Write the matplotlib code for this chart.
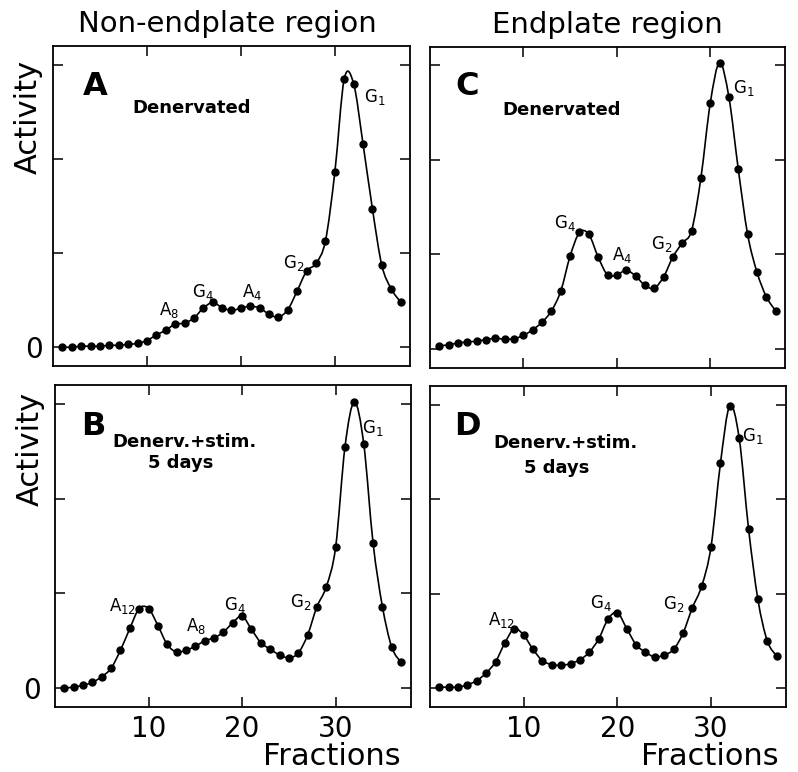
import numpy as np
import matplotlib
matplotlib.use("Agg")
import matplotlib.pyplot as plt
from matplotlib.path import Path
from matplotlib.patches import PathPatch

plt.rcParams["font.family"] = ["DejaVu Sans"]
plt.rcParams["mathtext.default"] = "regular"

fractions = np.arange(1, 38)

# activity (arbitrary units, ticks at 0..3)
non_endplate_denerv = [0.00, 0.00, 0.01, 0.01, 0.01, 0.02, 0.02, 0.03, 0.04, 0.07,
                       0.13, 0.18, 0.245, 0.255, 0.31, 0.415, 0.475, 0.42, 0.39, 0.415,
                       0.436, 0.415, 0.35, 0.32, 0.40, 0.60, 0.81, 0.89, 1.13, 1.86,
                       2.85, 2.80, 2.16, 1.47, 0.87, 0.62, 0.48]
non_endplate_stim = [0.00, 0.01, 0.03, 0.06, 0.12, 0.21, 0.40, 0.63, 0.84, 0.84,
                     0.66, 0.46, 0.38, 0.40, 0.44, 0.50, 0.53, 0.59, 0.69, 0.76,
                     0.62, 0.48, 0.41, 0.35, 0.32, 0.37, 0.56, 0.86, 1.07, 1.49,
                     2.55, 3.02, 2.58, 1.53, 0.86, 0.43, 0.27]
endplate_denerv = [0.03, 0.04, 0.06, 0.07, 0.08, 0.095, 0.11, 0.10, 0.105, 0.14,
                   0.20, 0.28, 0.40, 0.61, 0.98, 1.23, 1.21, 0.97, 0.78, 0.78,
                   0.83, 0.77, 0.67, 0.64, 0.76, 0.97, 1.12, 1.25, 1.81, 2.60,
                   3.03, 2.66, 1.90, 1.21, 0.81, 0.55, 0.40]
endplate_stim = [0.01, 0.01, 0.01, 0.035, 0.08, 0.16, 0.28, 0.48, 0.63, 0.56,
                 0.41, 0.29, 0.25, 0.24, 0.26, 0.30, 0.38, 0.52, 0.73, 0.80,
                 0.63, 0.46, 0.38, 0.33, 0.35, 0.41, 0.58, 0.85, 1.08, 1.50,
                 2.38, 2.99, 2.65, 1.69, 0.94, 0.50, 0.34]

column_titles = ["Non-endplate region", "Endplate region"]
x_ticks = [10, 20, 30]
y_ticks = [0, 1, 2, 3]

W, H = 798, 772


def smooth_path(x, y):
    # Catmull-Rom through the points, drawn as cubic Bezier segments
    pts = np.column_stack([x, y]).astype(float)
    pts = np.vstack([pts[0], pts, pts[-1]])
    verts = [tuple(pts[1])]
    codes = [Path.MOVETO]
    for i in range(len(pts) - 3):
        p0, p1, p2, p3 = pts[i], pts[i + 1], pts[i + 2], pts[i + 3]
        c1 = p1 + (p2 - p0) / 6
        c2 = p2 - (p3 - p1) / 6
        verts += [tuple(c1), tuple(c2), tuple(p2)]
        codes += [Path.CURVE4] * 3
    return Path(verts, codes)


def axes_rect(left, right, top, bottom):
    return [left / W, 1 - bottom / H, (right - left) / W, (bottom - top) / H]


fig = plt.figure(figsize=(W / 100, H / 100), dpi=100)

panels = [
    dict(rect=axes_rect(53, 410, 46, 366), y=non_endplate_denerv, letter="A",
         cond=[("Denervated", 0.389, 0.79)], letter_pos=(0.118, 0.847),
         peaks=[("G$_1$", 34.2, 2.66), ("G$_2$", 25.6, 0.89), ("A$_4$", 21.2, 0.585),
                ("G$_4$", 15.9, 0.585), ("A$_8$", 12.4, 0.39)],
         bottom=False, zero_pad=7),
    dict(rect=axes_rect(55, 410.5, 385, 707), y=non_endplate_stim, letter="B",
         cond=[("Denerv.+stim.", 0.364, 0.807), ("5 days", 0.353, 0.742)],
         letter_pos=(0.107, 0.845),
         peaks=[("G$_1$", 34.0, 2.75), ("A$_{12}$", 7.2, 0.87), ("A$_8$", 15.1, 0.65),
                ("G$_4$", 19.2, 0.88), ("G$_2$", 26.3, 0.91)],
         bottom=True, zero_pad=10),
    dict(rect=axes_rect(430, 785, 46.5, 367.5), y=endplate_denerv, letter="C",
         cond=[("Denervated", 0.372, 0.787)], letter_pos=(0.104, 0.849),
         peaks=[("G$_1$", 33.6, 2.76), ("G$_4$", 14.4, 1.33), ("A$_4$", 20.6, 0.99),
                ("G$_2$", 24.8, 1.11)],
         bottom=False, zero_pad=None),
    dict(rect=axes_rect(430, 786, 386, 707), y=endplate_stim, letter="D",
         cond=[("Denerv.+stim.", 0.381, 0.807), ("5 days", 0.355, 0.729)],
         letter_pos=(0.104, 0.847),
         peaks=[("G$_1$", 34.5, 2.67), ("A$_{12}$", 7.6, 0.72), ("G$_4$", 18.2, 0.90),
                ("G$_2$", 26.0, 0.89)],
         bottom=True, zero_pad=None),
]

for p in panels:
    ax = fig.add_axes(p["rect"])
    ax.set_xlim(0, 38)
    ax.set_ylim(-0.2, 3.2)
    ax.add_patch(PathPatch(smooth_path(fractions, p["y"]), fill=False,
                           edgecolor="black", lw=1.2))
    ax.plot(fractions, p["y"], "o", color="black", ms=5)

    ax.set_xticks(x_ticks)
    ax.set_yticks(y_ticks)
    ax.tick_params(direction="in", length=7, width=1.1, top=True, right=True,
                   labelsize=20)
    if p["bottom"]:
        ax.set_xticklabels([str(t) for t in x_ticks])
        ax.tick_params(axis="x", pad=6)
    else:
        ax.set_xticklabels([])
    if p["zero_pad"] is not None:
        ax.set_yticklabels(["0", "", "", ""])
        ax.tick_params(axis="y", pad=p["zero_pad"])
    else:
        ax.set_yticklabels([])
    for s in ax.spines.values():
        s.set_linewidth(1.3)

    ax.text(*p["letter_pos"], p["letter"], transform=ax.transAxes, ha="center",
            va="baseline", fontsize=23, fontweight="bold")
    for txt, x, y in p["cond"]:
        ax.text(x, y, txt, transform=ax.transAxes, ha="center", va="baseline",
                fontsize=13, fontweight="bold")
    for txt, x, y in p["peaks"]:
        ax.text(x, y, txt, ha="center", va="center", fontsize=12)

fig.text(227 / W, 1 - 32 / H, column_titles[0], ha="center", va="baseline", fontsize=21)
fig.text(607 / W, 1 - 33 / H, column_titles[1], ha="center", va="baseline", fontsize=21)
fig.text(28 / W, 1 - 117 / H, "Activity", rotation=90, ha="center", va="center", fontsize=22)
fig.text(30 / W, 1 - 449 / H, "Activity", rotation=90, ha="center", va="center", fontsize=22)
fig.text(332 / W, 1 - 765 / H, "Fractions", ha="center", va="baseline", fontsize=22)
fig.text(710 / W, 1 - 765 / H, "Fractions", ha="center", va="baseline", fontsize=22)

fig.savefig("out.png", dpi=100)
